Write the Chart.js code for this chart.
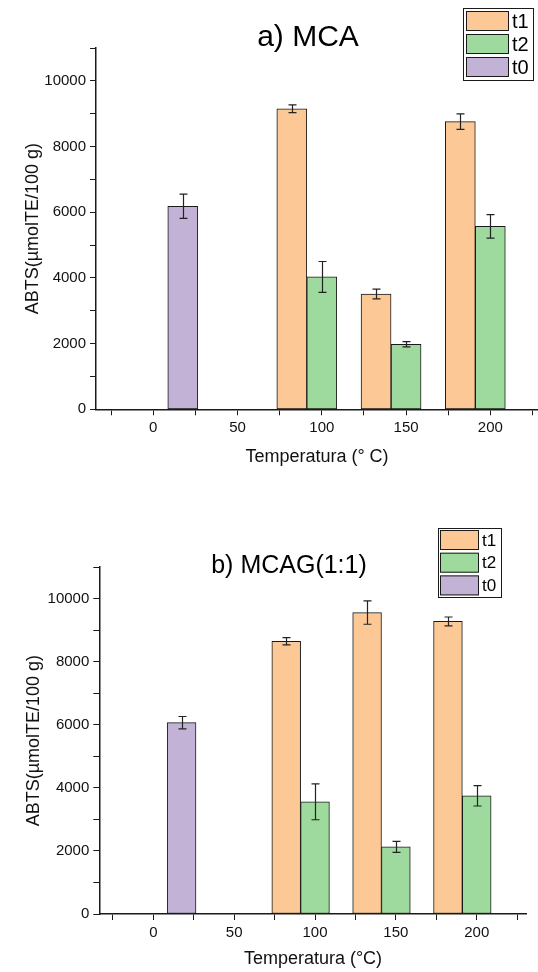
<!DOCTYPE html>
<html>
<head>
<meta charset="utf-8">
<script src="https://cdn.jsdelivr.net/npm/chart.js@4.4.1/dist/chart.umd.min.js"></script>
<style>
  html, body { margin: 0; padding: 0; background: #fff; }
  .panel { position: absolute; left: 0; width: 538px; height: 486px; }
  #panelA { top: 0; }
  #panelB { top: 486px; }
</style>
</head>
<body>
<div class="panel" id="panelA"><canvas id="chartA" width="538" height="486"></canvas></div>
<div class="panel" id="panelB"><canvas id="chartB" width="538" height="486"></canvas></div>
<script>
// temperature positions of the columns (°C)
const tempsT1 = [82.2, 132.2, 182.2];
const tempsT2 = [100, 150, 200];
const tempsT0 = [17.5];

// a) MCA
const mcaT1 = [9150, 3510, 8760];
const mcaT1Err = [120, 150, 235];
const mcaT2 = [4030, 1980, 5570];
const mcaT2Err = [470, 80, 360];
const mcaT0 = [6180];
const mcaT0Err = [370];

// b) MCAG(1:1)
const mcagT1 = [8650, 9560, 9280];
const mcagT1Err = [115, 370, 140];
const mcagT2 = [3560, 2130, 3750];
const mcagT2Err = [570, 175, 325];
const mcagT0 = [6070];
const mcagT0Err = [195];

const xTickLabels = [0, 50, 100, 150, 200];
const yTickLabels = [0, 2000, 4000, 6000, 8000, 10000];

const FONT = "'Liberation Sans', Arial, sans-serif";
const INK = '#1a1a1a';
const colors = { t1: '#fcc896', t2: '#9ed99e', t0: '#c1b2d6' };

function points(xs, ys) {
  return xs.map((x, i) => ({ x: x, y: ys[i] }));
}

function makeDataset(label, xs, ys, errs) {
  return {
    label: label,
    data: points(xs, ys),
    errors: errs,
    backgroundColor: colors[label],
    borderColor: INK,
    borderWidth: 1,
    borderSkipped: false,
    grouped: false,
  };
}

const errorBars = {
  id: 'errorBars',
  afterDatasetsDraw(chart) {
    const ctx = chart.ctx;
    const y = chart.scales.y;
    ctx.save();
    ctx.strokeStyle = '#222';
    ctx.lineWidth = 1.2;
    chart.data.datasets.forEach((ds, di) => {
      const meta = chart.getDatasetMeta(di);
      meta.data.forEach((bar, i) => {
        const v = ds.data[i].y, e = ds.errors[i];
        const top = y.getPixelForValue(v + e);
        const bot = y.getPixelForValue(v - e);
        const cx = Math.round(bar.x) + 0.5;
        ctx.beginPath();
        ctx.moveTo(cx, top); ctx.lineTo(cx, bot);
        ctx.moveTo(cx - 4, top); ctx.lineTo(cx + 4, top);
        ctx.moveTo(cx - 4, bot); ctx.lineTo(cx + 4, bot);
        ctx.stroke();
      });
    });
    ctx.restore();
  }
};

const decorations = {
  id: 'decorations',
  afterDraw(chart, args, opts) {
    const ctx = chart.ctx;
    ctx.save();
    // title
    ctx.fillStyle = '#000';
    ctx.font = opts.titleSize + 'px ' + FONT;
    ctx.textAlign = 'center';
    ctx.textBaseline = 'alphabetic';
    ctx.fillText(opts.title, opts.titleX, opts.titleY);
    // legend box
    const L = opts.legend;
    ctx.strokeStyle = INK;
    ctx.lineWidth = 1;
    ctx.strokeRect(L.x + 0.5, L.y + 0.5, L.w, L.h);
    ctx.font = L.font + 'px ' + FONT;
    ctx.textAlign = 'left';
    ctx.textBaseline = 'middle';
    chart.data.datasets.forEach((ds, i) => {
      const sy = L.y + L.pad + i * L.row;
      ctx.fillStyle = ds.backgroundColor;
      ctx.fillRect(L.x + L.pad, sy, L.sw, L.sh);
      ctx.strokeRect(L.x + L.pad + 0.5, sy + 0.5, L.sw - 1, L.sh - 1);
      ctx.fillStyle = '#000';
      ctx.fillText(ds.label, L.x + L.pad + L.sw + 3, sy + L.sh / 2 + 1);
    });
    ctx.restore();
  }
};

function makeChart(id, cfg) {
  const chart = new Chart(document.getElementById(id), {
    type: 'bar',
    data: {
      datasets: [
        makeDataset('t1', tempsT1, cfg.t1, cfg.t1Err),
        makeDataset('t2', tempsT2, cfg.t2, cfg.t2Err),
        makeDataset('t0', tempsT0, cfg.t0, cfg.t0Err),
      ],
    },
    plugins: [errorBars, decorations],
    options: {
      responsive: false,
      animation: false,
      events: [],
      layout: { padding: cfg.padding },
      plugins: {
        legend: { display: false },
        tooltip: { enabled: false },
        title: { display: false },
        decorations: cfg.deco,
      },
      scales: {
        x: {
          type: 'linear',
          min: cfg.xMin,
          max: cfg.xMax,
          offset: false,
          afterFit: (s) => { s.height = cfg.xAxisHeight; },
          border: { display: true, color: INK, width: 1.5 },
          grid: { display: true, offset: false, drawOnChartArea: false, drawTicks: true, tickLength: 6, tickColor: INK, tickWidth: 1 },
          ticks: {
            stepSize: 25,
            includeBounds: false,
            autoSkip: false,
            maxRotation: 0,
            padding: 4,
            color: '#111',
            font: { family: FONT, size: 15 },
            callback: (v) => xTickLabels.includes(v) ? String(v) : '',
          },
          title: {
            display: true,
            text: cfg.xTitle,
            color: '#111',
            font: { family: FONT, size: 18 },
            padding: { top: 0, bottom: cfg.xTitlePad },
          },
        },
        y: {
          min: 0,
          max: 11000,
          afterFit: (s) => { s.width = cfg.yAxisWidth; },
          border: { display: true, color: INK, width: 1.5 },
          grid: { display: true, drawOnChartArea: false, drawTicks: true, tickLength: 6, tickColor: INK, tickWidth: 1 },
          ticks: {
            stepSize: 1000,
            autoSkip: false,
            padding: 4,
            color: '#111',
            font: { family: FONT, size: 15 },
            callback: (v) => yTickLabels.includes(v) ? String(v) : '',
          },
          title: {
            display: true,
            text: 'ABTS(µmolTE/100 g)',
            color: '#111',
            font: { family: FONT, size: 18 },
            padding: { top: cfg.yTitlePad, bottom: 0 },
          },
        },
      },
    },
  });
  // column width is 17.8 °C wide on the temperature axis
  const xs = chart.scales.x;
  const w = xs.getPixelForValue(17.8) - xs.getPixelForValue(0);
  chart.data.datasets.forEach((ds) => { ds.barThickness = w; });
  chart.update('none');
  return chart;
}

makeChart('chartA', {
  t1: mcaT1, t1Err: mcaT1Err, t2: mcaT2, t2Err: mcaT2Err, t0: mcaT0, t0Err: mcaT0Err,
  xMin: -34, xMax: 228.3,
  padding: { top: 48, left: 0, right: 0, bottom: 0 },
  yAxisWidth: 96, xAxisHeight: 76.7,
  xTitle: 'Temperatura (° C)', xTitlePad: 18, yTitlePad: 22,
  deco: {
    title: 'a) MCA', titleSize: 30, titleX: 308, titleY: 46,
    legend: { x: 463, y: 8, w: 70, h: 72, pad: 3, row: 23, sw: 43, sh: 20, font: 20 },
  },
});

makeChart('chartB', {
  t1: mcagT1, t1Err: mcagT1Err, t2: mcagT2, t2Err: mcagT2Err, t0: mcagT0, t0Err: mcagT0Err,
  xMin: -33.4, xMax: 230.9,
  padding: { top: 81.2, left: 0, right: 11.3, bottom: 0 },
  yAxisWidth: 99.3, xAxisHeight: 58,
  xTitle: 'Temperatura (°C)', xTitlePad: 2, yTitlePad: 23,
  deco: {
    title: 'b) MCAG(1:1)', titleSize: 25, titleX: 289, titleY: 87,
    legend: { x: 438, y: 42, w: 63, h: 69, pad: 2, row: 22.7, sw: 39, sh: 20, font: 17 },
  },
});
</script>
</body>
</html>
